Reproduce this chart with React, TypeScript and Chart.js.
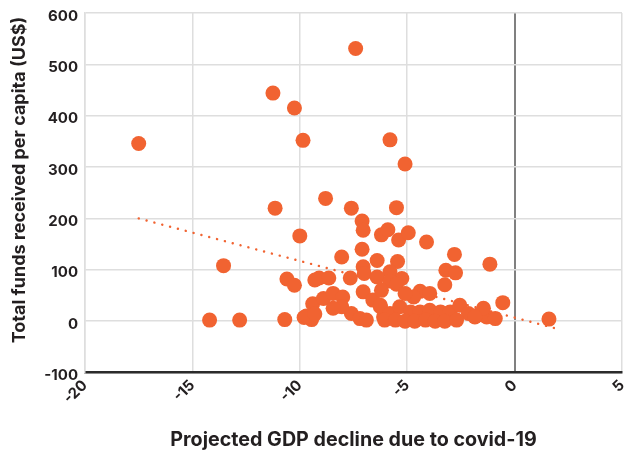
import React, { useEffect, useRef } from "react";
import { Chart, registerables } from "chart.js";

Chart.register(...registerables);

// Projected GDP decline (x) and total funds received per capita in US$ (y)
const gdpDecline = [
  -17.5, -7.4, -11.25, -10.25, -9.85, -5.8, -5.1, -11.15, -8.8, -7.6,
  -5.5, -7.1, -7.05, -10.0, -13.55, -14.2, -12.8, -10.7, -10.6, -10.25,
  -9.8, -9.45, -9.4, -9.1, -8.65, -8.05, -7.65, -7.1, -7.05, -6.4,
  -6.2, -5.9, -5.4, -4.95, -4.1, -2.8, -1.15, -3.2, -2.75, -5.45,
  -5.8, -5.25, -7.0, -6.4, -8.9, -8.45, -8.0, -7.05, -6.6, -6.25,
  -6.1, -7.6, -7.2, -6.9, -9.7, -9.3, -8.05, -8.45, -5.8, -4.4,
  -3.95, -3.25, -6.2, -5.5, -4.7, -5.1, -6.25, -5.8, -5.35, -4.85,
  -4.4, -3.95, -3.45, -3.0, -2.55, -2.15, -1.7, -1.3, -6.05, -5.55,
  -5.1, -4.65, -4.15, -3.7, -3.25, -2.7, -0.55, -1.45, -0.9, -1.85,
  1.6, -9.3,
];
const fundsPerCapita = [
  346, 531, 444, 415, 352, 353, 306, 220, 239, 220,
  221, 195, 177, 166, 108, 2, 2, 3, 82, 70,
  7, 3, 34, 84, 84, 125, 84, 140, 106, 118,
  168, 178, 158, 172, 154, 130, 111, 99, 94, 116,
  96, 83, 93, 86, 44, 54, 47, 57, 41, 28,
  8, 15, 5, 2, 10, 14, 28, 25, 78, 58,
  54, 71, 60, 72, 47, 54, 31, 15, 28, 18,
  18, 21, 18, 18, 31, 15, 12, 8, 2, 2,
  0, 0, 2, 0, 0, 2, 36, 25, 5, 8,
  4, 80,
];
// Trend line end points
const trendX = [-17.5, 1.9];
const trendY = [200, -14];

const xTickValues = [-20, -15, -10, -5, 0, 5];
const yTickValues = [-100, 0, 100, 200, 300, 400, 500, 600];
const xTitle = "Projected GDP decline due to covid-19";
const yTitle = "Total funds received per capita (US$)";

const ORANGE = "#F16331";
const TEXT = "#231f20";
const FONT = "Inter, 'Open Sans', sans-serif";

export default function App() {
  const ref = useRef<HTMLCanvasElement>(null);

  useEffect(() => {
    document.body.style.margin = "0";
    const canvas = ref.current;
    if (!canvas) return;

    const axisTitles = {
      id: "axisTitles",
      afterDraw(chart: any) {
        const { ctx, chartArea } = chart;
        ctx.save();
        ctx.fillStyle = TEXT;
        ctx.textAlign = "center";
        ctx.textBaseline = "middle";
        ctx.font = `700 19.7px ${FONT}`;
        ctx.fillText(xTitle, (chartArea.left + chartArea.right) / 2, 440);
        ctx.font = `700 18px ${FONT}`;
        ctx.translate(20, 180);
        ctx.rotate(-Math.PI / 2);
        ctx.fillText(yTitle, 0, 0);
        ctx.restore();
      },
    };

    const chart = new Chart(canvas, {
      type: "scatter",
      data: {
        datasets: [
          {
            type: "scatter",
            data: gdpDecline.map((x, i) => ({ x, y: fundsPerCapita[i] })),
            backgroundColor: ORANGE,
            borderColor: ORANGE,
            borderWidth: 0,
            pointRadius: 7.5,
            pointHoverRadius: 7.5,
            order: 1,
          },
          {
            type: "line",
            data: trendX.map((x, i) => ({ x, y: trendY[i] })),
            borderColor: ORANGE,
            borderWidth: 2.4,
            borderDash: [0.1, 8],
            borderCapStyle: "round",
            pointRadius: 0,
            fill: false,
            order: 2,
          } as any,
        ],
      },
      options: {
        responsive: false,
        animation: false,
        layout: { autoPadding: false, padding: { top: 13, right: 3, left: 0, bottom: 0 } },
        plugins: {
          legend: { display: false },
          tooltip: { enabled: false },
        },
        scales: {
          x: {
            type: "linear",
            min: -20,
            max: 5,
            afterBuildTicks: (s: any) => {
              s.ticks = xTickValues.map((v) => ({ value: v }));
            },
            afterFit: (s: any) => {
              s.height = 82.5;
              s.paddingLeft = 0;
              s.paddingRight = 0;
            },
            ticks: {
              minRotation: 45,
              maxRotation: 45,
              padding: 4,
              color: TEXT,
              font: { family: FONT, size: 15, weight: "bold" },
            },
            grid: {
              drawTicks: false,
              color: (c: any) => (c.tick && c.tick.value === 0 ? "#808080" : "#dedede"),
              lineWidth: (c: any) => (c.tick && c.tick.value === 0 ? 2 : 1.5),
            },
            border: { color: "#2b2b2b", width: 2.5 },
          },
          y: {
            type: "linear",
            min: -100,
            max: 600,
            afterBuildTicks: (s: any) => {
              s.ticks = yTickValues.map((v) => ({ value: v }));
            },
            afterFit: (s: any) => {
              s.width = 85;
              s.paddingTop = 0;
              s.paddingBottom = 0;
            },
            ticks: {
              padding: 7,
              labelOffset: 3,
              color: TEXT,
              font: { family: FONT, size: 15, weight: "bold" },
            },
            grid: {
              drawTicks: false,
              color: "#dedede",
              lineWidth: 1.5,
            },
            border: { color: "#dedede", width: 1.5 },
          },
        },
      },
      plugins: [axisTitles],
    });

    return () => chart.destroy();
  }, []);

  return (
    <div style={{ position: "absolute", left: 0, top: 0, width: 625, height: 455 }}>
      <canvas ref={ref} width={625} height={455} />
    </div>
  );
}
